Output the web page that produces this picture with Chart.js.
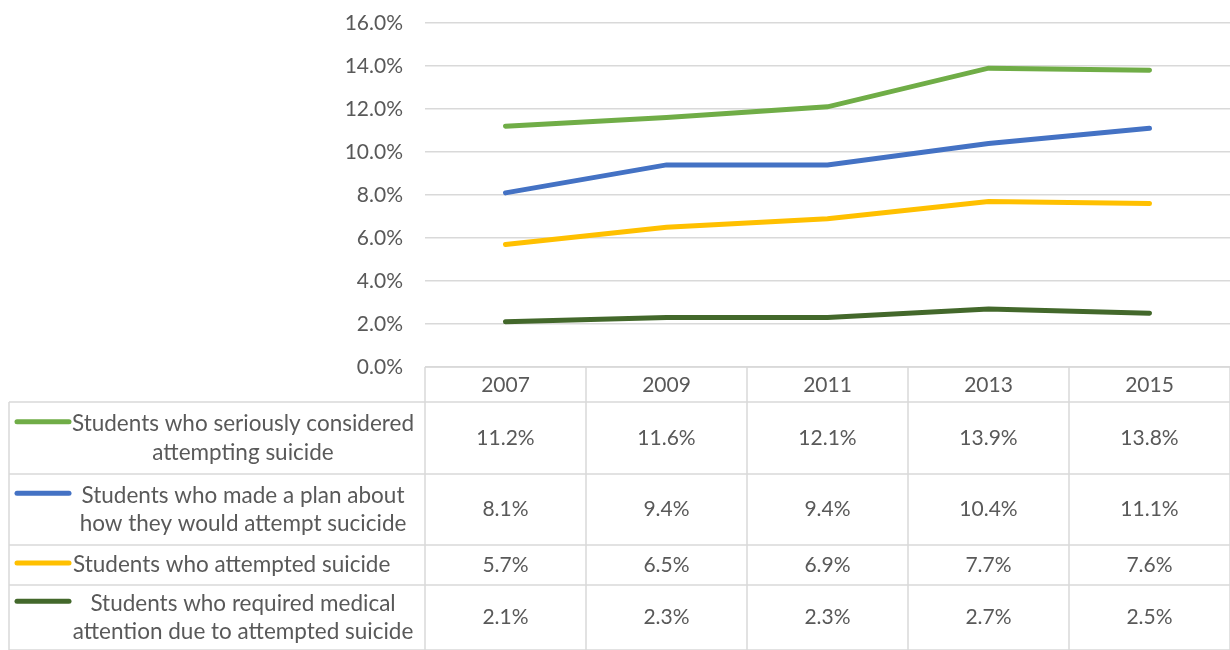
<!DOCTYPE html>
<html>
<head>
<meta charset="utf-8">
<script src="https://cdn.jsdelivr.net/npm/chart.js@4.4.1/dist/chart.umd.min.js"></script>
<style>
  html, body { margin: 0; padding: 0; background: #fff; }
  #wrap { width: 1230px; height: 650px; position: relative; }
</style>
</head>
<body>
<div id="wrap"><canvas id="suicideChart"></canvas></div>
<script>
// survey years and percentages per question
const years = ['2007', '2009', '2011', '2013', '2015'];
const consideredPct = [11.2, 11.6, 12.1, 13.9, 13.8];
const plannedPct = [8.1, 9.4, 9.4, 10.4, 11.1];
const attemptedPct = [5.7, 6.5, 6.9, 7.7, 7.6];
const medicalPct = [2.1, 2.3, 2.3, 2.7, 2.5];

// legend text as shown in the table, one entry per wrapped line
const seriesNames = [
    ['Students who seriously considered', 'attempting suicide'],
    ['Students who made a plan about', 'how they would attempt sucicide'],
    ['Students who attempted suicide'],
    ['Students who required medical', 'attention due to attempted suicide'],
];
const seriesData = [consideredPct, plannedPct, attemptedPct, medicalPct];
const seriesColors = ['#70AD47', '#4472C4', '#FFC000', '#43682B'];

const FONT = 'Lato, "Open Sans", sans-serif';
const TEXT_COLOR = '#595959';
const GRID_COLOR = '#D9D9D9';

// data table under the plot, columns follow the x scale
const dataTable = {
    id: 'dataTable',
    afterDraw(chart) {
        const { ctx, chartArea, scales } = chart;
        const x = scales.x;
        const left = chartArea.left;
        const right = chartArea.right;
        const colW = (right - left) / years.length;
        const tableLeft = 9;
        const headerTop = chartArea.bottom;
        const rowEdges = [headerTop + 35, 474, 545, 585, 650];

        ctx.save();
        ctx.strokeStyle = GRID_COLOR;
        ctx.lineWidth = 1.5;

        // header row border
        ctx.beginPath();
        ctx.moveTo(left, headerTop);
        ctx.lineTo(right, headerTop);
        ctx.stroke();

        // horizontal rules
        rowEdges.forEach((y) => {
            ctx.beginPath();
            ctx.moveTo(tableLeft, y);
            ctx.lineTo(right, y);
            ctx.stroke();
        });

        // vertical rules
        for (let i = 0; i <= years.length; i++) {
            const cx = left + i * colW;
            ctx.beginPath();
            ctx.moveTo(cx, headerTop);
            ctx.lineTo(cx, 650);
            ctx.stroke();
        }
        ctx.beginPath();
        ctx.moveTo(tableLeft, rowEdges[0]);
        ctx.lineTo(tableLeft, 650);
        ctx.stroke();

        ctx.fillStyle = TEXT_COLOR;
        ctx.font = '21px ' + FONT;
        ctx.textAlign = 'center';
        ctx.textBaseline = 'middle';

        // year headers
        years.forEach((yr, i) => {
            ctx.fillText(yr, x.getPixelForValue(i), (headerTop + rowEdges[0]) / 2 + 1);
        });

        // series rows
        const lineGap = 28.5;
        seriesNames.forEach((lines, r) => {
            const top = rowEdges[r];
            const bottom = rowEdges[r + 1];
            const mid = (top + bottom) / 2;
            const firstY = mid - (lines.length - 1) * lineGap / 2;

            // legend key
            ctx.strokeStyle = seriesColors[r];
            ctx.lineWidth = 5;
            ctx.lineCap = 'round';
            ctx.beginPath();
            ctx.moveTo(17, firstY - 2);
            ctx.lineTo(69, firstY - 2);
            ctx.stroke();

            ctx.fillStyle = TEXT_COLOR;
            ctx.font = '22.5px ' + FONT;
            if (lines.length === 1) {
                // single-line labels sit against the key
                ctx.textAlign = 'left';
                ctx.fillText(lines[0], 73, firstY);
                ctx.textAlign = 'center';
            } else {
                lines.forEach((txt, k) => {
                    ctx.fillText(txt, 243, firstY + k * lineGap);
                });
            }

            ctx.font = '21px ' + FONT;
            seriesData[r].forEach((v, i) => {
                ctx.fillText(v.toFixed(1) + '%', x.getPixelForValue(i), mid);
            });
        });
        ctx.restore();
    },
};

const ctx = document.getElementById('suicideChart').getContext('2d');
new Chart(ctx, {
    type: 'line',
    data: {
        labels: years,
        datasets: seriesData.map((vals, i) => ({
            label: seriesNames[i].join(' '),
            data: vals,
            borderColor: seriesColors[i],
            backgroundColor: seriesColors[i],
            borderWidth: 5,
            pointRadius: 0,
            tension: 0,
            borderCapStyle: 'round',
        })),
    },
    options: {
        responsive: true,
        maintainAspectRatio: false,
        animation: false,
        layout: {
            padding: { top: 23, bottom: 283, left: 0, right: 0 },
        },
        plugins: {
            legend: { display: false },
            tooltip: { enabled: false },
        },
        scales: {
            x: {
                display: false,
                offset: true,
            },
            y: {
                min: 0,
                max: 16,
                afterFit: (scale) => {
                    scale.width = 425;
                    scale.paddingTop = 0;
                    scale.paddingBottom = 0;
                },
                border: { display: false },
                grid: { color: GRID_COLOR, lineWidth: 1.5, drawTicks: false },
                ticks: {
                    stepSize: 2,
                    padding: 22,
                    color: TEXT_COLOR,
                    font: { family: FONT, size: 21 },
                    callback: (v) => v.toFixed(1) + '%',
                },
            },
        },
    },
    plugins: [dataTable],
});
</script>
</body>
</html>
